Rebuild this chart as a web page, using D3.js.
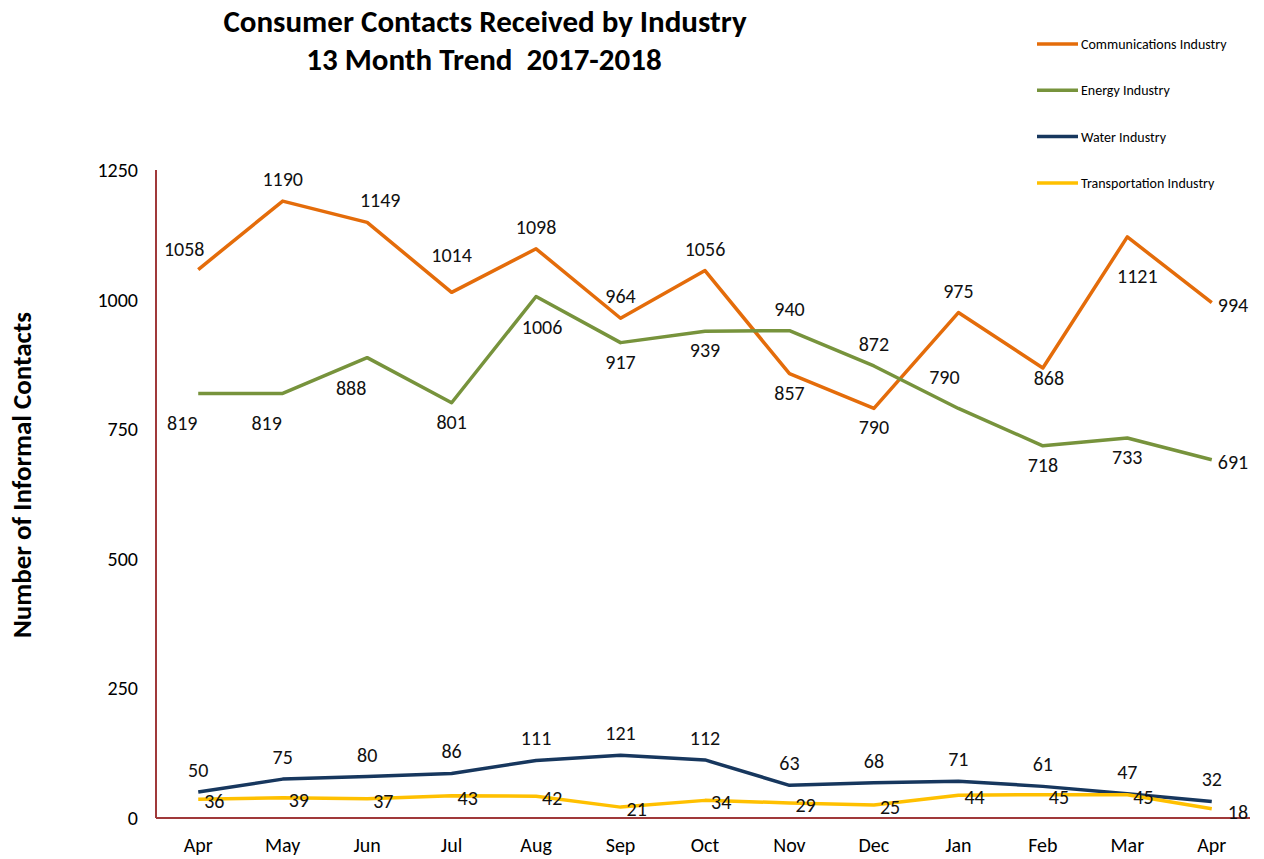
<!DOCTYPE html>
<html>
<head>
<meta charset="utf-8">
<script src="https://cdn.jsdelivr.net/npm/d3@7"></script>
<style>
  body { margin: 0; background: #fff; }
  svg { font-family: Calibri, Carlito, Lato, "Open Sans", sans-serif; }
  svg text { white-space: pre; }
</style>
</head>
<body>
<svg id="chart" width="1264" height="859"></svg>
<script>
// Data
const months = ['Apr', 'May', 'Jun', 'Jul', 'Aug', 'Sep', 'Oct', 'Nov', 'Dec', 'Jan', 'Feb', 'Mar', 'Apr'];
const yTicks = [0, 250, 500, 750, 1000, 1250];

const communications = [1058, 1190, 1149, 1014, 1098, 964, 1056, 857, 790, 975, 868, 1121, 994];
const energy         = [819, 819, 888, 801, 1006, 917, 939, 940, 872, 790, 718, 733, 691];
const water          = [50, 75, 80, 86, 111, 121, 112, 63, 68, 71, 61, 47, 32];
const transportation = [36, 39, 37, 43, 42, 21, 34, 29, 25, 44, 45, 45, 18];

// label placement per point (see labelOffset below)
const commPlace   = ['al', 'a', 'ar', 'a2', 'a', 'a', 'a', 'b', 'b', 'a', 'b0', 'b3', 'r'];
const energyPlace = ['bl', 'bl', 'bl', 'b', 'b2', 'b', 'b', 'a', 'a', 'a2l', 'b', 'b', 'r'];
const waterPlace  = months.map(() => 'a');
const transPlace  = ['r', 'r', 'r', 'r', 'r', 'r', 'r', 'r', 'r', 'r', 'r', 'r', 'rr'];

const series = [
  { name: 'Communications Industry', values: communications, color: '#E46C0A', place: commPlace },
  { name: 'Energy Industry',         values: energy,         color: '#77933C', place: energyPlace },
  { name: 'Water Industry',          values: water,          color: '#17375E', place: waterPlace },
  { name: 'Transportation Industry', values: transportation, color: '#FFC000', place: transPlace }
];

const svg = d3.select('#chart');
const plot = { left: 156, right: 1254, top: 170, bottom: 818 };
const labelSize = 20;

const x = d3.scalePoint()
  .domain(d3.range(months.length))
  .range([plot.left, plot.right])
  .padding(0.5);

const y = d3.scaleLinear()
  .domain([0, 1250])
  .range([plot.bottom, plot.top]);

/* ---------- title ---------- */
const title = svg.append('text')
  .attr('text-anchor', 'middle')
  .attr('font-weight', 'bold')
  .attr('font-size', 31)
  .attr('fill', '#000');
title.append('tspan').attr('x', 485).attr('y', 32).text('Consumer Contacts Received by Industry');
title.append('tspan').attr('x', 484).attr('y', 70).text('13 Month Trend  2017-2018');

/* ---------- y axis title ---------- */
svg.append('text')
  .attr('transform', 'translate(31,475) rotate(-90)')
  .attr('text-anchor', 'middle')
  .attr('font-weight', 'bold')
  .attr('font-size', 27)
  .text('Number of Informal Contacts');

/* ---------- axes ---------- */
const axisColor = '#A0393A';

svg.append('line')
  .attr('x1', plot.left).attr('x2', plot.left)
  .attr('y1', plot.top).attr('y2', plot.bottom)
  .attr('stroke', axisColor).attr('stroke-width', 2);

svg.append('line')
  .attr('x1', plot.left).attr('x2', plot.right - 4)
  .attr('y1', plot.bottom).attr('y2', plot.bottom)
  .attr('stroke', axisColor).attr('stroke-width', 2);

svg.append('g')
  .selectAll('text')
  .data(yTicks)
  .enter().append('text')
  .attr('x', 138)
  .attr('y', d => y(d) + 7)
  .attr('text-anchor', 'end')
  .attr('font-size', labelSize)
  .text(d => d);

svg.append('g')
  .selectAll('text')
  .data(months)
  .enter().append('text')
  .attr('x', (d, i) => x(i))
  .attr('y', 852)
  .attr('text-anchor', 'middle')
  .attr('font-size', labelSize)
  .text(d => d);

/* ---------- lines ---------- */
const line = d3.line()
  .x((d, i) => x(i))
  .y(d => y(d));

svg.append('g')
  .selectAll('path')
  .data(series)
  .enter().append('path')
  .attr('d', s => line(s.values))
  .attr('fill', 'none')
  .attr('stroke', s => s.color)
  .attr('stroke-width', 3.5)
  .attr('stroke-linejoin', 'round');

/* ---------- data labels ---------- */
// offset of the label centre from its point: [dx, dy, anchor]
function labelOffset(place) {
  switch (place) {
    case 'a':   return [0, -22, 'middle'];
    case 'a2':  return [0, -37, 'middle'];
    case 'a2l': return [-14, -31, 'middle'];
    case 'al':  return [-14, -21, 'middle'];
    case 'ar':  return [13, -22, 'middle'];
    case 'b0':  return [6, 10, 'middle'];
    case 'b':   return [0, 19, 'middle'];
    case 'b2':  return [6, 31, 'middle'];
    case 'b3':  return [10, 39, 'middle'];
    case 'bl':  return [-16, 30, 'middle'];
    case 'r':   return [6, 2, 'start'];
    case 'rr':  return [16, 3, 'start'];
    default:    return [0, 0, 'middle'];
  }
}

series.forEach(s => {
  svg.append('g')
    .selectAll('text')
    .data(s.values)
    .enter().append('text')
    .attr('font-size', labelSize)
    .attr('fill', '#111')
    .each(function (d, i) {
      const [dx, dy, anchor] = labelOffset(s.place[i]);
      d3.select(this)
        .attr('x', x(i) + dx)
        .attr('y', y(d) + dy + 7)
        .attr('text-anchor', anchor);
    })
    .text(d => d);
});

/* ---------- legend ---------- */
const legend = svg.append('g')
  .selectAll('g')
  .data(series)
  .enter().append('g')
  .attr('transform', (d, i) => `translate(1037, ${44 + i * 46.3})`);

legend.append('line')
  .attr('x1', 0).attr('x2', 41)
  .attr('stroke', d => d.color)
  .attr('stroke-width', 3.5);

legend.append('text')
  .attr('x', 44)
  .attr('y', 5)
  .attr('font-size', 14)
  .text(d => d.name);
</script>
</body>
</html>
